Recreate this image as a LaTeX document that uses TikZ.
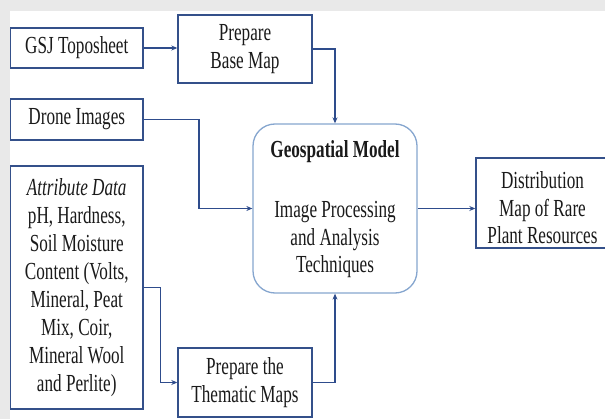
\documentclass[tikz,border=0pt]{standalone}
\usepackage{fontspec}
\setmainfont[FakeStretch=0.7]{Liberation Serif}
\usetikzlibrary{arrows.meta,calc}
\definecolor{bordc}{HTML}{34508A}
\definecolor{linec}{HTML}{2E4C8C}
\definecolor{geoc}{HTML}{86A6CF}
\definecolor{bgc}{HTML}{E9E9E9}
\definecolor{txtc}{HTML}{1A1A1A}
\begin{document}
\begin{tikzpicture}[x=1pt,y=-1pt,
  box/.style={draw=bordc,line width=1.4pt,fill=white,inner sep=0pt,align=center,
    text=txtc,font=\fontsize{24.5}{28}\selectfont},
  lbl/.style={inner sep=0pt,align=center,text=txtc,font=\fontsize{24.5}{27.5}\selectfont},
  conn/.style={draw=linec,line width=1.9pt,-{Stealth[length=6pt,width=5pt]}}]
\useasboundingbox (0,0) rectangle (605,419);
\fill[bgc] (0,0) rectangle (605,419);
\fill[white] (10,11) rectangle (605,419);
\node[box,minimum width=132.5pt,minimum height=40pt] (gsj) at (76.75,48) {GSJ Toposheet};
\node[box,minimum width=134pt,minimum height=68pt] (pbm) at (245,49) {Prepare\\Base Map};
\node[box,minimum width=132.5pt,minimum height=41pt] (drone) at (76.75,119.5) {Drone Images};
\node[box,minimum width=132.5pt,minimum height=243pt] (attr) at (76.75,287.5)
  {\textit{Attribute Data}\\pH, Hardness,\\Soil Moisture\\Content (Volts,\\Mineral, Peat\\Mix, Coir,\\Mineral Wool\\and Perlite)};
\node[box,minimum width=134pt,minimum height=69pt] (them) at (245,382.5) {Prepare the\\Thematic Maps};
\node[draw=geoc,line width=1.3pt,fill=white,rounded corners=22pt,minimum width=164pt,minimum height=169pt] (geo) at (335,208.5) {};
\node[lbl,font=\bfseries\fontsize{24.5}{27.5}\selectfont] (geot) at (335,152) {Geospatial Model};
\node[lbl] (geob) at (335,239.5) {Image Processing\\and Analysis\\Techniques};
\node[box,minimum width=136pt,minimum height=90pt,text depth=0pt] (dist) at (544,203) {};
\node[lbl] (distt) at (542.5,208) {Distribution\\Map of Rare\\Plant Resources};
\coordinate (dk) at (199,0);
\coordinate (ak) at (160.5,0);
\draw[conn] (gsj.east) -- (gsj.east -| pbm.west);
\draw[conn] (pbm.east) -| (geo.north);
\draw[conn] (drone.east) -| (dk |- geo.west) -- (geo.west);
\draw[conn] (attr.east) -| (ak |- them.west) -- (them.west);
\draw[conn] (them.east) -| (geo.south);
\draw[conn] (geo.east) -- (geo.east -| dist.west);
\end{tikzpicture}
\end{document}
